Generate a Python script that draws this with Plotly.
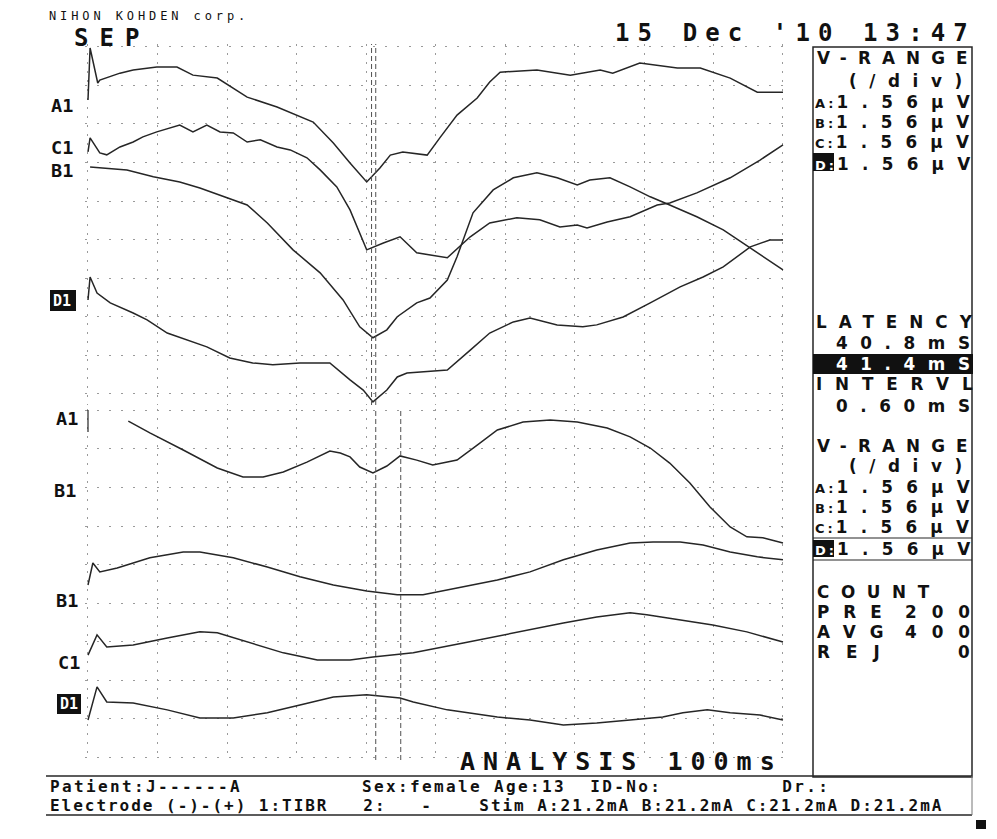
import plotly.graph_objects as go

W, H = 997, 839

# ---------------- data (time in ms, amplitude in µV relative to each channel's baseline) ----------------
# upper page
ua1_t = [0.0, 0.3, 1.4, 1.7, 4.6, 6.5, 9.9, 12.8, 15.1, 18.6, 22.9, 27.2, 32.4, 35.3, 37.7, 40.1, 42.0, 43.5,
         45.3, 48.8, 50.7, 53.1, 56.0, 57.8, 59.3, 64.6, 69.4, 73.7, 75.5, 79.4, 84.8, 88.1, 92.4, 96.3, 100.0]
ua1_v = [0.0, 2.11, 0.69, 0.81, 1.09, 1.22, 1.34, 1.34, 1.01, 0.89, 0.12, -0.28, -0.89, -1.74, -2.55, -3.32, -2.75,
         -2.23, -2.11, -2.23, -1.50, -0.61, 0.08, 0.73, 1.13, 1.22, 1.01, 1.22, 1.09, 1.50, 1.30, 1.30, 0.89, 0.32, 0.32]

uc1_t = [0.0, 0.3, 1.7, 2.7, 4.6, 6.5, 7.9, 9.9, 13.2, 15.1, 17.1, 19.0, 20.9, 22.9, 24.8, 27.2, 29.1, 31.5, 33.4,
         35.8, 37.7, 40.1, 42.5, 44.9, 47.3, 51.7, 55.0, 57.8, 61.7, 65.0, 67.9, 70.4, 71.8, 74.7, 78.0, 81.9, 83.7,
         87.6, 92.4, 96.7, 100.0]
uc1_v = [-0.08, 0.49, -0.12, -0.20, 0.12, 0.32, 0.53, 0.73, 1.01, 0.73, 1.01, 0.73, 0.69, 0.32, 0.41, 0.12, 0.00,
         -0.32, -0.81, -1.50, -2.43, -4.05, -3.77, -3.52, -4.17, -4.37, -3.52, -2.96, -2.75, -2.83, -3.12, -3.04,
         -3.16, -2.92, -2.71, -2.23, -2.15, -1.74, -1.13, -0.41, 0.20]

ub1_t = [0.3, 1.7, 5.6, 9.4, 13.2, 16.1, 20.9, 22.9, 25.8, 29.5, 33.4, 36.7, 39.1, 41.0, 43.0, 44.5, 47.3, 49.2,
         51.7, 53.1, 55.4, 58.3, 61.2, 64.6, 67.5, 70.4, 72.2, 75.1, 78.0, 80.9, 83.7, 87.6, 91.4, 95.3, 100.0]
ub1_v = [0.12, 0.08, 0.00, -0.28, -0.49, -0.73, -1.22, -1.42, -2.15, -3.24, -4.17, -5.27, -6.36, -6.80, -6.48,
         -5.95, -5.39, -5.19, -4.46, -3.52, -1.74, -0.81, -0.32, -0.12, -0.32, -0.61, -0.41, -0.32, -0.69, -1.09,
         -1.42, -1.90, -2.43, -3.16, -4.05]

ud1_t = [0.0, 0.3, 1.3, 3.2, 6.5, 8.5, 11.4, 14.2, 17.1, 20.4, 23.7, 26.6, 30.5, 34.8, 37.7, 39.6, 41.0, 43.0,
         44.5, 45.9, 51.7, 55.0, 57.8, 61.2, 63.6, 67.5, 71.2, 73.2, 77.0, 80.9, 85.2, 88.5, 91.4, 95.3, 98.1, 100.0]
ud1_v = [0.0, 0.93, 0.28, -0.12, -0.53, -0.81, -1.34, -1.62, -1.90, -2.35, -2.55, -2.63, -2.55, -2.55, -3.24,
         -3.65, -4.13, -3.65, -3.12, -2.96, -2.84, -2.03, -1.34, -0.89, -0.73, -1.01, -1.09, -1.01, -0.69, -0.12,
         0.53, 0.93, 1.34, 2.15, 2.43, 2.43]

# lower page
la1_t = [5.8, 8.9, 13.7, 18.6, 22.3, 25.2, 28.1, 31.5, 34.8, 36.3, 37.7, 39.1, 41.0, 43.0, 44.9, 47.3, 49.6, 53.1,
         56.0, 58.9, 62.6, 66.5, 70.4, 74.7, 78.0, 80.9, 83.7, 86.6, 89.5, 92.4, 94.8, 97.1, 100.0]
la1_v = [-0.45, -0.93, -1.62, -2.35, -2.71, -2.71, -2.51, -2.11, -1.66, -1.74, -1.90, -2.31, -2.55, -2.27, -1.86,
         -2.03, -2.23, -2.03, -1.42, -0.81, -0.49, -0.41, -0.49, -0.73, -1.09, -1.54, -2.15, -2.96, -3.93, -4.74,
         -5.14, -5.18, -5.39]

lb1_t = [0.0, 0.7, 1.7, 4.2, 8.9, 13.7, 16.1, 20.9, 25.8, 30.5, 35.3, 40.1, 44.5, 48.2, 53.1, 58.9, 63.6, 68.4,
         73.2, 78.0, 81.3, 85.2, 88.5, 92.4, 96.3, 100.0]
lb1_v = [-0.61, 0.28, -0.08, 0.08, 0.49, 0.73, 0.73, 0.49, 0.12, -0.28, -0.61, -0.85, -1.01, -1.01, -0.73, -0.41,
         -0.08, 0.41, 0.81, 1.09, 1.13, 1.13, 1.01, 0.73, 0.53, 0.41]

lc1_t = [0.0, 1.3, 2.7, 6.5, 11.4, 16.1, 18.6, 23.3, 28.1, 33.0, 37.7, 41.0, 46.8, 54.0, 61.2, 68.4, 73.2, 78.0,
         80.4, 85.2, 89.9, 94.8, 100.0]
lc1_v = [-0.41, 0.41, -0.08, 0.00, 0.28, 0.53, 0.49, 0.08, -0.32, -0.61, -0.61, -0.49, -0.32, 0.08, 0.49, 0.89,
         1.13, 1.30, 1.22, 1.01, 0.81, 0.53, 0.12]

ld1_t = [0.0, 1.3, 2.7, 6.5, 11.4, 16.1, 20.9, 25.8, 30.5, 35.3, 40.1, 44.9, 46.8, 51.7, 58.9, 63.6, 68.4, 73.2,
         78.0, 82.7, 85.6, 89.1, 92.4, 96.7, 100.0]
ld1_v = [-0.61, 0.73, 0.12, 0.08, -0.20, -0.53, -0.53, -0.32, 0.00, 0.32, 0.41, 0.28, 0.12, -0.20, -0.49, -0.61,
         -0.81, -0.73, -0.61, -0.49, -0.32, -0.20, -0.32, -0.41, -0.61]

upper_labels = ["A1", "C1", "B1", "D1"]
lower_labels = ["A1", "B1", "B1", "C1", "D1"]
# display baseline of each channel, µV above the bottom grid line of its page
upper_base = [11.89, 9.87, 9.06, 3.79]
lower_base = [14.06, 7.58, 4.54, 2.11]

cursor_upper = [40.8, 41.4]
cursor_lower = [41.4, 45.0]
vrange_channels = ["A", "B", "C", "D"]
vrange_values = [1.56, 1.56, 1.56, 1.56]
latency_ms = [40.8, 41.4]
interval_ms = 0.60
count_names = ["PRE", "AVG", "REJ"]
count_values = [200, 400, 0]
analysis_ms = 100
date_text = "15 Dec '10 13:47"
info_line1 = "Patient:J------A          Sex:female Age:13  ID-No:          Dr.:"
info_line2 = "Electrode (-)-(+) 1:TIBR   2:   -    Stim A:21.2mA B:21.2mA C:21.2mA D:21.2mA"

# ---------------- style ----------------
INK = "#262626"
GRID = "#9a9a9a"
MONO = "DejaVu Sans Mono, Liberation Mono, monospace"
SANS = "DejaVu Sans, Liberation Sans, sans-serif"
UPX = 24.68      # px per µV on the printout (38.5 px per 1.56 µV division)
PXMS = 6.95      # px per ms
PS = 16.8        # panel text size (rows are 20 px apart)


def px(x):
    return x / W


def py(y):
    return 1 - y / H


fig = go.Figure()

upper = [(ua1_t, ua1_v), (uc1_t, uc1_v), (ub1_t, ub1_v), (ud1_t, ud1_v)]
lower = [(la1_t, la1_v), (lb1_t, lb1_v), (lc1_t, lc1_v), (ld1_t, ld1_v)]
for name, (t, v), b in zip(upper_labels, upper, upper_base):
    fig.add_trace(go.Scatter(x=t, y=[b + a for a in v], mode="lines", name=name,
                             line=dict(color=INK, width=1.5), xaxis="x", yaxis="y",
                             showlegend=False, hoverinfo="skip"))
for name, (t, v), b in zip(["A1", "B1", "C1", "D1"], lower, lower_base):
    fig.add_trace(go.Scatter(x=t, y=[b + a for a in v], mode="lines", name=name,
                             line=dict(color=INK, width=1.5), xaxis="x2", yaxis="y2",
                             showlegend=False, hoverinfo="skip"))

common = dict(showgrid=True, gridcolor=GRID, gridwidth=1, zeroline=False, showline=False,
              showticklabels=False, ticks="", fixedrange=True)
xdom = [(88 - 0.5 * PXMS) / W, (783 + 0.5 * PXMS) / W]
xax = dict(domain=xdom, range=[-0.5, 100.5], tick0=0, dtick=10, griddash="2px,7px", **common)
up_top, up_bot, up_zero = 44, 405, 393.5
lo_top, lo_bot, lo_zero = 409, 760, 757
yax = dict(domain=[py(up_bot), py(up_top)], range=[-(up_bot - up_zero) / UPX, (up_zero - up_top) / UPX],
           tick0=0, dtick=1.56, griddash="2px,10px", anchor="x", **common)
yax2 = dict(domain=[py(lo_bot), py(lo_top)], range=[-(lo_bot - lo_zero) / UPX, (lo_zero - lo_top) / UPX],
            tick0=0, dtick=1.56, griddash="2px,10px", anchor="x2", **common)

shapes = []
for c in cursor_upper:
    shapes.append(dict(type="line", xref="x", yref="y domain", x0=c, x1=c, y0=0, y1=1,
                       line=dict(color="#505050", width=1, dash="5px,3px")))
for c in cursor_lower:
    shapes.append(dict(type="line", xref="x2", yref="y2 domain", x0=c, x1=c, y0=0, y1=1,
                       line=dict(color="#505050", width=1, dash="5px,3px")))


def rect(x0, y0, x1, y1, fill=None, lw=1.5):
    return dict(type="rect", xref="paper", yref="paper", x0=px(x0), x1=px(x1), y0=py(y1), y1=py(y0),
                line=dict(color=INK, width=0 if fill else lw),
                fillcolor=fill if fill else "rgba(0,0,0,0)", layer="above")


def hline(x0, x1, y, lw=1.5, color=INK):
    return dict(type="line", xref="paper", yref="paper", x0=px(x0), x1=px(x1), y0=py(y), y1=py(y),
                line=dict(color=color, width=lw), layer="above")


def vline(x, y0, y1, lw=1.5, color=INK):
    return dict(type="line", xref="paper", yref="paper", x0=px(x), x1=px(x), y0=py(y0), y1=py(y1),
                line=dict(color=color, width=lw), layer="above")


# right-hand information panel
shapes.append(rect(813, 47, 972, 777))
shapes.append(hline(813, 972, 538, 1.2))
shapes.append(hline(813, 972, 560, 1.2))
shapes.append(rect(813, 354, 973, 374, fill="#111111"))
shapes.append(rect(813, 153, 834, 171, fill="#111111"))
shapes.append(rect(813, 540, 834, 557, fill="#111111"))
# channel D label boxes
shapes.append(rect(50, 290, 76, 311, fill="#111111"))
shapes.append(rect(57, 694, 81, 714, fill="#111111"))
# patient information box
shapes.append(hline(46, 972, 776, 1.5))
shapes.append(hline(46, 972, 815, 1.5))
shapes.append(vline(972, 776, 815, 1, "#777777"))
shapes.append(rect(976, 820, 986, 829, fill="#111111"))
shapes.append(vline(88, 410, 432, 1.2))

ann = []


def txt(s, x, y, size=PS, color="#111111", ls=None, family=SANS, anchor="left", bold=True):
    t = f'<span style="letter-spacing:{ls}px">{s}</span>' if ls else s
    if anchor == "right" and ls:
        x = x + ls          # trailing letter spacing after the last glyph
    ann.append(dict(text=t, x=px(x), y=py(y), xref="paper", yref="paper", xanchor=anchor,
                    yanchor="middle", showarrow=False,
                    font=dict(family=family, size=size, color=color, weight="bold" if bold else "normal")))


def vrow(ch, val, y):
    col = ";color:#ffffff" if ch == "D" else ""
    t = (f'<span style="font-size:13px;letter-spacing:3px{col}">{ch}:</span>'
         f'<span style="letter-spacing:13.3px">{val:.2f}µV</span>')
    ann.append(dict(text=t, x=px(813), y=py(y), xref="paper", yref="paper", xanchor="left",
                    yanchor="middle", showarrow=False,
                    font=dict(family=SANS, size=PS, color="#111111", weight="bold")))


def vrange_block(y0, dy_head):
    txt("V-RANGE", 815, y0, ls=11.1)
    txt("(/div)", 847, y0 + dy_head, ls=12.6)
    for i, (c, v) in enumerate(zip(vrange_channels, vrange_values)):
        vrow(c, v, y0 + dy_head + 21 + 20 * i + (2 if c == "D" else 0))


# header
txt("NIHON KOHDEN corp.", 47, 16, size=12, ls=3.9, family=MONO, bold=False)
txt("SEP", 72, 38, size=24, ls=11.0, family=MONO)
txt(date_text, 613, 33, size=24, ls=8.1, family=MONO)

# panel
vrange_block(58, 23)
txt("LATENCY", 814, 322, ls=12.0)
txt(f"{latency_ms[0]:.1f}mS", 972, 343, ls=12.6, anchor="right")
txt(f"{latency_ms[1]:.1f}mS", 972, 364, ls=12.6, anchor="right", color="#ffffff")
txt("INTERVL", 814, 384.5, ls=12.8)
txt(f"{interval_ms:.2f}mS", 972, 405.5, ls=12.6, anchor="right")
vrange_block(446, 20)
txt("COUNT", 815, 592, ls=11.6)
for i, (nm, cv) in enumerate(zip(count_names, count_values)):
    txt(nm, 815, 612 + 20 * i, ls=14.0 if nm != "REJ" else 16.0)
    txt(f"{cv}", 972, 612 + 20 * i, ls=15.0, anchor="right")

txt(f"ANALYSIS {analysis_ms}ms", 458, 761, size=25, ls=8.0, family=MONO)

txt(info_line1, 48, 786.5, size=16, ls=2.37, family=MONO)
txt(info_line2, 48, 805.5, size=16, ls=1.97, family=MONO)

# channel labels
for s, x, y in [("A1", 49, 105), ("C1", 49, 147.5), ("B1", 49, 170)]:
    txt(s, x, y, size=18.5, family=MONO)
txt("D1", 51, 300.5, size=15, color="#ffffff", family=MONO)
for s, x, y in [("A1", 54, 418), ("B1", 52, 490), ("B1", 54, 600), ("C1", 56, 662)]:
    txt(s, x, y, size=18.5, family=MONO)
txt("D1", 58, 704, size=15, color="#ffffff", family=MONO)

fig.update_layout(
    width=W, height=H, autosize=False,
    margin=dict(l=0, r=0, t=0, b=0, pad=0),
    paper_bgcolor="#ffffff", plot_bgcolor="rgba(0,0,0,0)",
    xaxis=dict(anchor="y", **xax),
    xaxis2=dict(anchor="y2", **xax),
    yaxis=yax, yaxis2=yax2,
    shapes=shapes, annotations=ann,
    showlegend=False,
)

fig.write_html("out.html", config={"displayModeBar": False},
               post_script="document.body.style.margin='0';document.body.style.overflow='hidden';")
